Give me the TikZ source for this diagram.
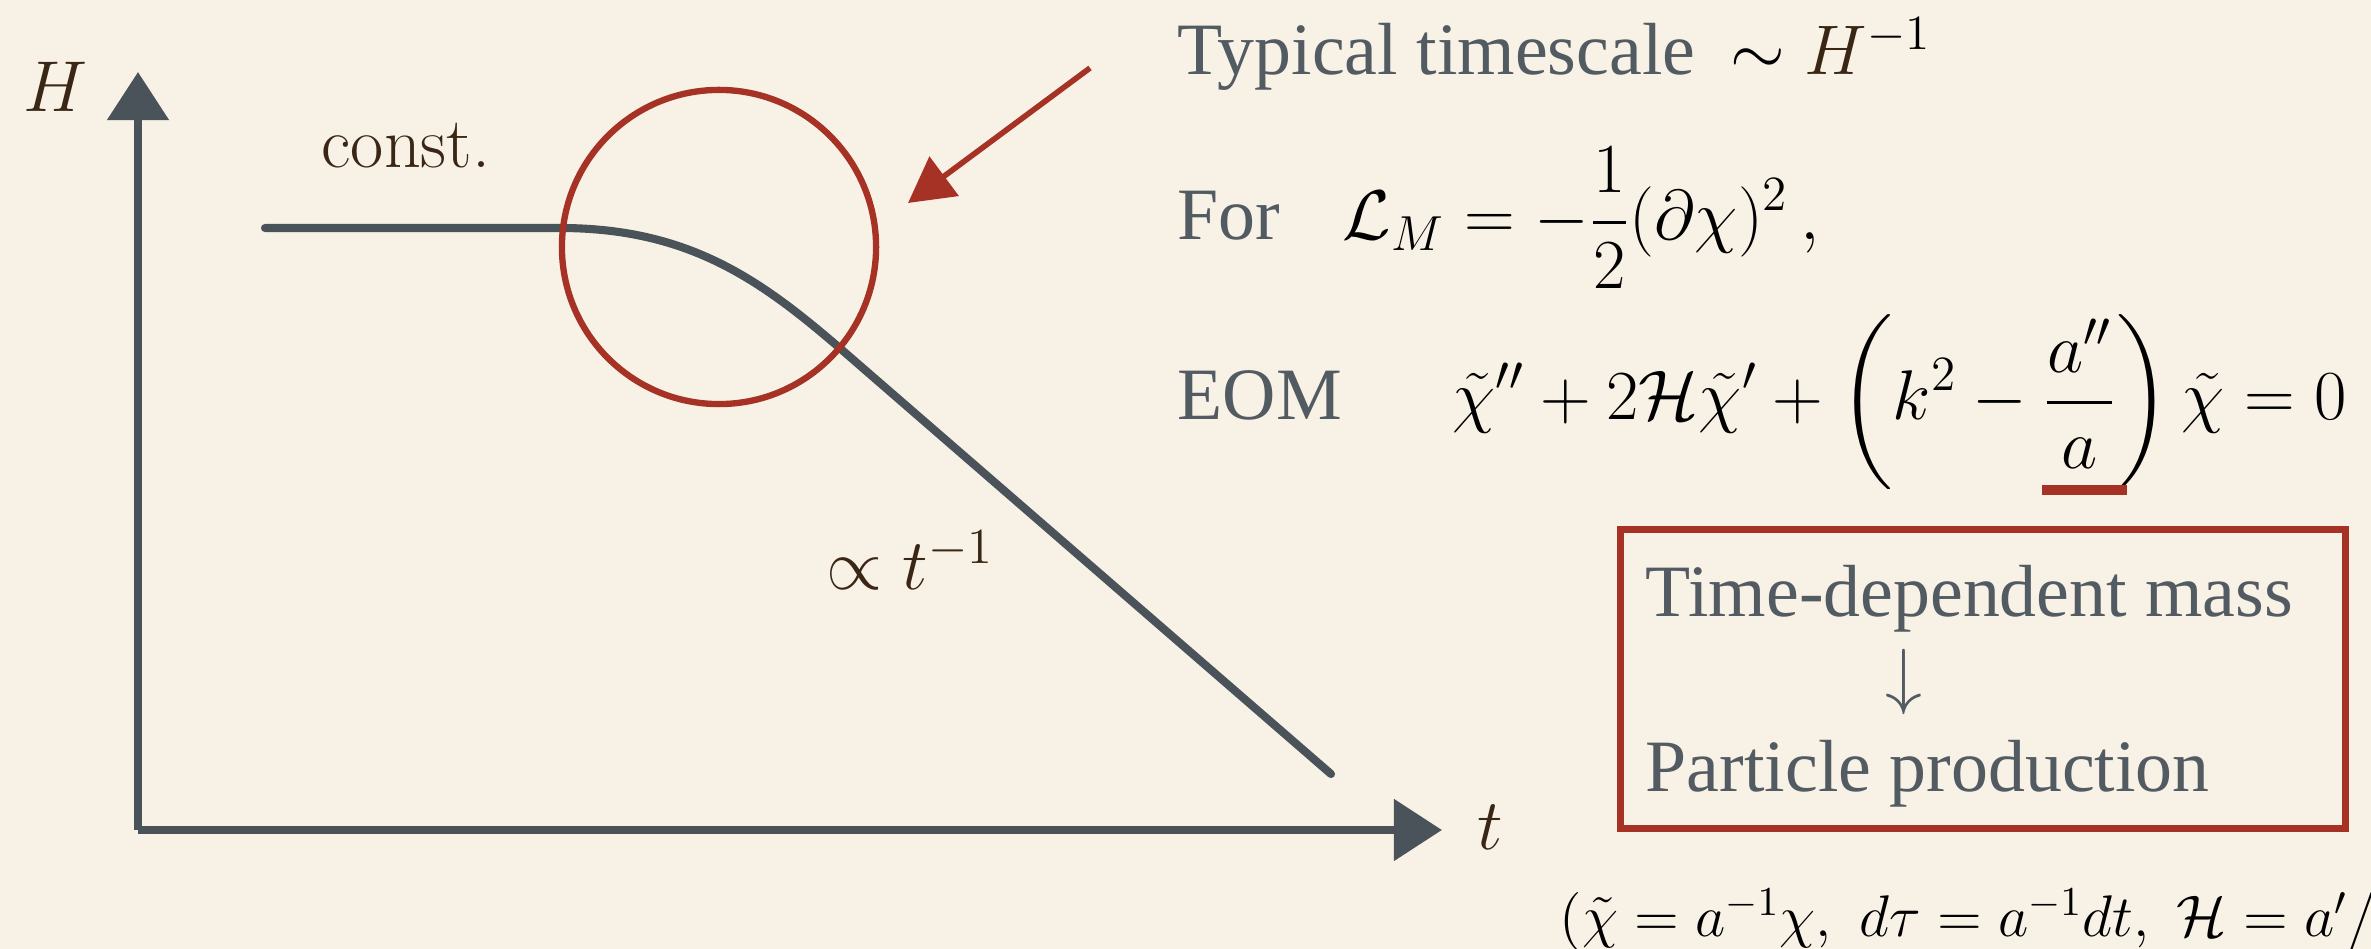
\RequirePackage{fix-cm}
\documentclass[tikz,border=0pt]{standalone}
\usepackage{amsmath}
\usepackage[no-math]{fontspec}
\newfontfamily\slidefont{Liberation Serif}
\usepackage{tikz}
\usetikzlibrary{arrows.meta}
\definecolor{paper}{RGB}{248,241,229}
\definecolor{slate}{RGB}{74,82,90}
\definecolor{slidegray}{RGB}{82,90,98}
\definecolor{pen}{RGB}{166,50,38}
\definecolor{ink}{RGB}{58,38,20}
\tikzset{
  axis/.style={draw=slate,line width=2.3pt,-{Triangle[length=0.48cm,width=0.6cm]}},
  hcurve/.style={draw=slate,line width=2.3pt,line cap=round},
  pencircle/.style={draw=pen,line width=1.8pt,circle,minimum size=3.14cm,inner sep=0pt},
  penarr/.style={draw=pen,line width=1.6pt,-{Triangle[length=0.45cm,width=0.48cm]}},
  penbox/.style={draw=pen,line width=2pt,minimum width=7.24cm,minimum height=2.98cm,inner sep=0pt},
  slidetxt/.style={anchor=base west,inner sep=0pt,text=slidegray,font=\slidefont\fontsize{21}{25}\selectfont},
  eqn/.style={anchor=base west,inner sep=0pt,text=black,font=\fontsize{20}{24}\selectfont},
  plotlab/.style={anchor=base west,inner sep=0pt,text=ink,font=\fontsize{20.5}{24}\selectfont}
}

\begin{document}
\begin{tikzpicture}[x=0.01cm,y=-0.01cm]
\path[use as bounding box,fill=paper] (0,0) rectangle (2371,949);
\clip (0,0) rectangle (2371,949);

% axes
\coordinate (O) at (138,830);
\coordinate (ytop) at (138,72);
\coordinate (xend) at (1442,830);
\draw[axis] (O) -- (ytop);
\draw[axis] (O) -- (xend);
\node[plotlab] (Hlab) at (23,112) {$H$};
\node[plotlab] (tlab) at (1477,850) {$t$};

% Hubble rate
\coordinate (hstart) at (265,228);
\coordinate (hbend) at (560,228);
\coordinate (hlin) at (842,350);
\coordinate (hend) at (1331,774);
\draw[hcurve] (hstart) -- (hbend) .. controls (690,228) and (762,281) .. (hlin) -- (hend);
\node[plotlab] (constlab) at (321,168) {const.};
\node[plotlab] (proplab) at (826,590) {$\propto t^{-1}$};

% transition
\node[pencircle] (focus) at (719,247) {};
\coordinate (pentail) at (1090,68);
\coordinate (pentip) at (908,203);
\draw[penarr] (pentail) -- (pentip);

% right column
\node[slidetxt] (tscale) at (1177,75) {Typical timescale};
\node[eqn] (tsmath) at (1730,75) {$\sim {\color{ink}H}^{-1}$};
\node[slidetxt] (forlab) at (1177,240) {For};
\node[eqn] (lagr) at (1342,240) {$\displaystyle \mathcal{L}_M = -\frac{1}{2}(\partial\chi)^2\,,$};
\node[slidetxt] (eomlab) at (1177,420) {EOM};
\node[eqn] (eomeq) at (1452,420) {$\displaystyle \tilde\chi'' + 2\mathcal{H}\tilde\chi' + \biggl(k^2 - \frac{a''}{a}\biggr)\,\tilde\chi = 0$};
\draw[draw=pen,line width=2.8pt] (2042,490) -- (2127,490);

% box
\node[penbox] (massbox) at (1983,679) {};
\node[slidetxt] (tdm) at (1645,617) {Time-dependent mass};
\node[slidetxt,anchor=center] (darr) at (1904,682) {$\downarrow$};
\node[slidetxt] (pp) at (1645,792) {Particle production};

\node[eqn,font=\fontsize{16.7}{20}\selectfont] (defs) at (1559,937) {$(\tilde\chi = a^{-1}\chi,\ d\tau = a^{-1}dt,\ \mathcal{H} = a'/$};
\end{tikzpicture}
\end{document}
